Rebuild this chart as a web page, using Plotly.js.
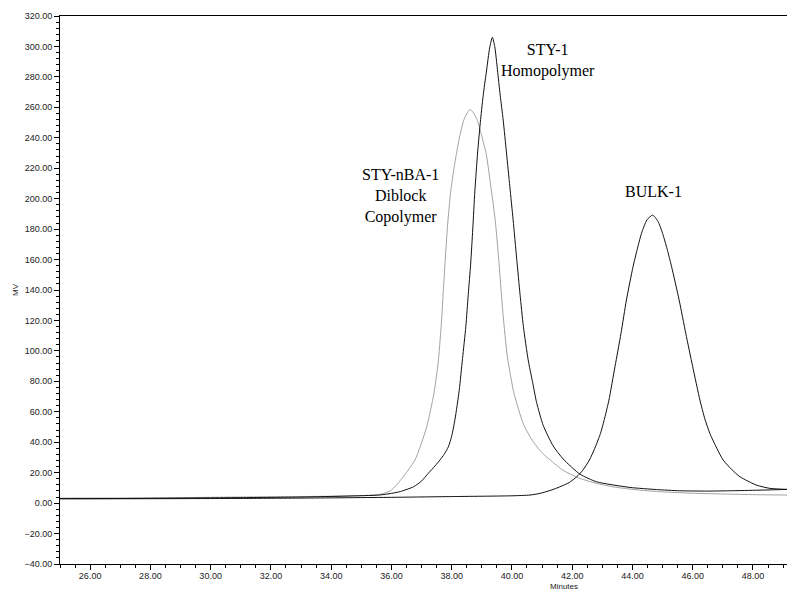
<!DOCTYPE html>
<html>
<head>
<meta charset="utf-8">
<script src="https://cdn.plot.ly/plotly-3.0.1.min.js"></script>
<style>html,body{margin:0;padding:0;background:#fff;}#chart{width:787px;height:590px;}</style>
</head>
<body>
<div id="chart"></div>
<script>
// STY-nBA-1 Diblock Copolymer (gray)
const diblockX = [25, 27, 29, 31, 33, 34.5, 35.5, 35.75, 36.0, 36.3, 36.78, 37.17, 37.41, 37.55, 37.65, 37.78, 37.87, 37.97, 38.07, 38.17, 38.29, 38.41, 38.52, 38.61, 38.72, 38.85, 39.0, 39.15, 39.3, 39.45, 39.57, 39.70, 39.85, 40.07, 40.38, 40.65, 41.0, 41.26, 41.7, 42.26, 42.8, 43.35, 44.2, 45.0, 46.0, 47.2, 48.2, 49.15];
const diblockY = [3.3, 3.4, 3.6, 4.0, 4.3, 4.7, 5.4, 6.4, 8.5, 15, 28.3, 50, 72, 92, 116, 158, 184, 205, 219, 231, 243, 252, 256.5, 258.5, 256.5, 251.5, 241, 229, 208, 185, 158, 125, 96, 72, 52, 42, 33, 28.5, 21.5, 16.2, 13, 10.7, 8.6, 7.4, 6.5, 5.9, 5.5, 5.3];

// STY-1 Homopolymer (black)
const homoX = [25, 27, 29, 31, 33, 34.5, 35.6, 36.0, 36.3, 36.73, 37.0, 37.22, 37.45, 37.61, 37.75, 37.89, 38.0, 38.11, 38.25, 38.36, 38.47, 38.55, 38.63, 38.70, 38.77, 38.86, 38.96, 39.06, 39.16, 39.26, 39.35, 39.43, 39.52, 39.61, 39.71, 39.82, 39.93, 40.04, 40.16, 40.27, 40.38, 40.54, 40.68, 40.82, 41.04, 41.37, 41.7, 42.26, 42.81, 43.92, 44.8, 45.57, 46.5, 47.23, 48.2, 49.15];
const homoY = [3.0, 3.0, 3.3, 3.6, 4.0, 4.6, 5.3, 6.4, 7.6, 10.7, 14.5, 19.5, 24.5, 28.3, 32, 37, 44, 55, 74, 95, 116, 137, 157, 180, 205, 230, 252, 270, 284.5, 299, 306, 300, 284.5, 268, 251.6, 230, 208, 186, 160, 137, 116, 94, 80, 66, 51, 37.5, 29, 19, 14, 10.3, 8.9, 8.1, 7.9, 8.1, 8.5, 9.0];

// BULK-1 (black)
const bulkX = [25, 30, 33, 36, 38, 40, 40.6, 40.93, 41.3, 41.59, 41.9, 42.15, 42.35, 42.57, 42.75, 42.94, 43.08, 43.22, 43.42, 43.62, 43.80, 44.02, 44.15, 44.30, 44.48, 44.67, 44.85, 45.0, 45.15, 45.30, 45.55, 45.77, 46.0, 46.24, 46.4, 46.57, 46.8, 47.01, 47.3, 47.57, 48.12, 48.56, 49.15];
const bulkY = [2.8, 3.0, 3.3, 3.8, 4.3, 4.8, 5.3, 6.4, 8.5, 10.7, 13.5, 17.3, 21.5, 28.3, 36, 45.8, 56, 67.7, 89.6, 111.5, 133.4, 155.3, 166, 177.2, 186, 189.2, 185, 177.2, 167, 155.3, 133.4, 111.5, 89.6, 67.7, 55.5, 45.8, 36, 28.3, 22, 17.3, 11.8, 9.7, 9.0];

const labelTexts = ["STY-nBA-1<br>Diblock<br>Copolymer", "STY-1<br>Homopolymer", "BULK-1"];

const lineShape = {shape: 'spline', smoothing: 0.6, width: 1};
const traces = [
  {x: diblockX, y: diblockY, mode: 'lines', line: Object.assign({color: '#a3a3a3'}, lineShape), hoverinfo: 'skip'},
  {x: homoX, y: homoY, mode: 'lines', line: Object.assign({color: '#111111'}, lineShape), hoverinfo: 'skip'},
  {x: bulkX, y: bulkY, mode: 'lines', line: Object.assign({color: '#111111'}, lineShape), hoverinfo: 'skip'}
];

const tickFont = {family: 'Liberation Sans, Arial, sans-serif', size: 9, color: '#222'};
const annFont = {family: 'Liberation Serif, Times New Roman, serif', size: 16, color: '#000'};

const layout = {
  width: 787, height: 590,
  margin: {l: 60, r: 0, t: 16, b: 26, pad: 0},
  paper_bgcolor: '#fff', plot_bgcolor: '#fff',
  showlegend: false,
  xaxis: {
    range: [25, 49.13], dtick: 2, tick0: 0, tickformat: '.2f',
    showgrid: false, zeroline: false,
    showline: true, linecolor: '#000', linewidth: 1, mirror: true,
    ticks: 'outside', ticklen: 5, tickcolor: '#000', tickwidth: 1,
    ticklabelstandoff: -2,
    tickfont: tickFont,
    minor: {dtick: 0.5, ticks: 'outside', ticklen: 3, tickcolor: '#000', showgrid: false}
  },
  yaxis: {
    range: [-40, 320], dtick: 20, tick0: 0, tickformat: '.2f',
    showgrid: false, zeroline: false,
    showline: true, linecolor: '#000', linewidth: 1,
    ticks: 'outside', ticklen: 5, tickcolor: '#000', tickwidth: 1,
    tickfont: tickFont,
    minor: {dtick: 4, ticks: 'outside', ticklen: 3, tickcolor: '#000', showgrid: false},
    title: {text: 'MV', font: {family: 'Liberation Sans, Arial, sans-serif', size: 8, color: '#222'}, standoff: 4}
  },
  annotations: [
    {x: 36.29, y: 201.5, xref: 'x', yref: 'y', text: labelTexts[0], showarrow: false, font: annFont, align: 'center'},
    {x: 41.2, y: 291, xref: 'x', yref: 'y', text: labelTexts[1], showarrow: false, font: annFont, align: 'center'},
    {x: 44.7, y: 205, xref: 'x', yref: 'y', text: labelTexts[2], showarrow: false, font: annFont, align: 'center'},
    {x: 0.715, y: 0, xref: 'paper', yref: 'paper', yanchor: 'top', yshift: -16, text: 'Minutes', showarrow: false, font: {family: 'Liberation Sans, Arial, sans-serif', size: 8, color: '#222'}}
  ]
};

Plotly.newPlot('chart', traces, layout, {staticPlot: true, displayModeBar: false});
</script>
</body>
</html>
